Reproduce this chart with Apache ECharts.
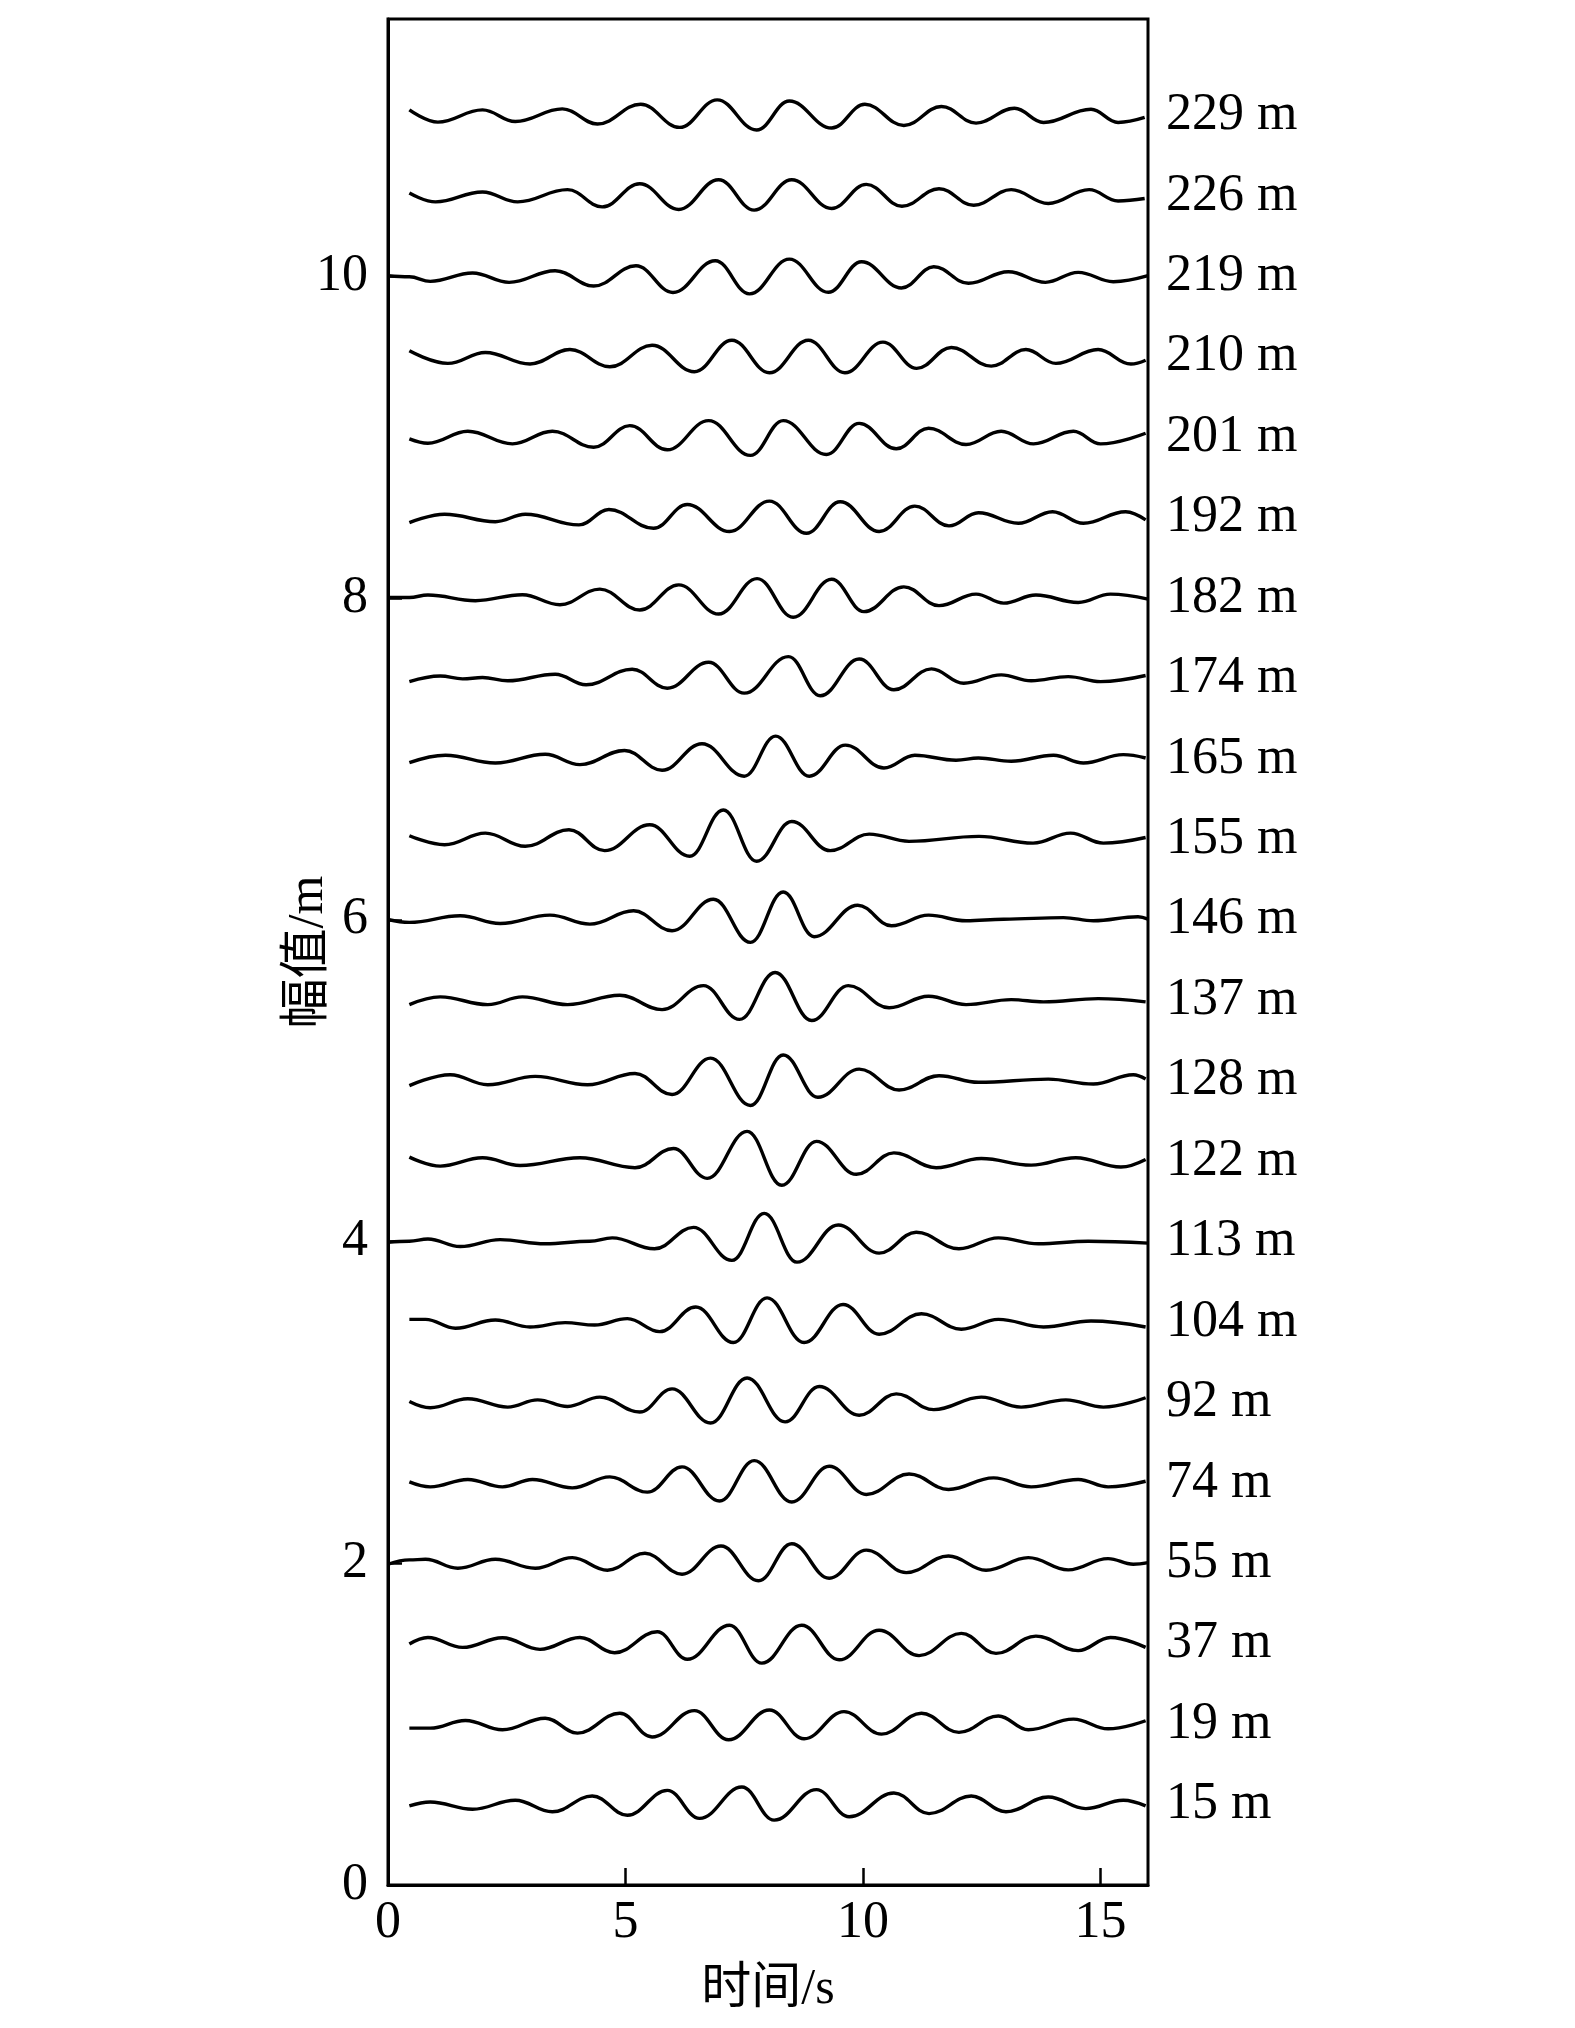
<!DOCTYPE html>
<html><head><meta charset="utf-8">
<script src="https://cdn.jsdelivr.net/npm/echarts@6/dist/echarts.min.js"></script>
<style>html,body{margin:0;padding:0;background:#fff}#c{width:1575px;height:2028px}</style>
</head><body><div id="c"></div>
<script>
// depth labels (top to bottom) and their baseline offsets (m)
const depths = ['229 m','226 m','219 m','210 m','201 m','192 m','182 m','174 m','165 m','155 m','146 m','137 m','128 m','122 m','113 m','104 m','92 m','74 m','55 m','37 m','19 m','15 m'];
const offsets = [11.0,10.5,10.0,9.5,9.0,8.5,8.0,7.5,7.0,6.5,6.0,5.5,5.0,4.5,4.0,3.5,3.0,2.5,2.0,1.5,1.0,0.5];
const xTicks = [0,5,10,15];
const yTicks = [0,2,4,6,8,10];

// waveforms: [time s, amplitude relative to baseline m]
const w229 = [[0.45,0.035],[1.05,-0.041],[1.99,0.035],[2.68,-0.037],[3.67,0.041],[4.41,-0.053],[5.32,0.07],[6.14,-0.074],[6.93,0.097],[7.76,-0.09],[8.45,0.09],[9.34,-0.078],[10.04,0.07],[10.86,-0.062],[11.65,0.056],[12.38,-0.047],[13.19,0.045],[13.8,-0.043],[14.8,0.039],[15.37,-0.043],[15.93,-0.012]];
const w226 = [[0.45,0.018],[1.0,-0.037],[1.99,0.025],[2.73,-0.037],[3.78,0.039],[4.51,-0.068],[5.3,0.076],[6.12,-0.084],[6.96,0.101],[7.71,-0.088],[8.5,0.101],[9.34,-0.078],[10.07,0.072],[10.82,-0.064],[11.6,0.045],[12.33,-0.058],[13.12,0.039],[13.9,-0.047],[14.76,0.039],[15.37,-0.031],[15.93,-0.016]];
const w219 = [[0.0,0.004],[0.45,-0.002],[0.89,-0.031],[1.78,0.021],[2.55,-0.037],[3.52,0.035],[4.33,-0.06],[5.22,0.066],[6.0,-0.1],[6.89,0.097],[7.61,-0.109],[8.45,0.107],[9.27,-0.099],[9.97,0.091],[10.81,-0.072],[11.49,0.06],[12.22,-0.043],[13.06,0.029],[13.84,-0.037],[14.53,0.025],[15.27,-0.033],[16.0,0.004]];
const w210 = [[0.45,0.037],[1.26,-0.041],[2.05,0.027],[2.99,-0.045],[3.83,0.045],[4.67,-0.062],[5.56,0.072],[6.45,-0.093],[7.24,0.103],[8.03,-0.099],[8.85,0.103],[9.62,-0.099],[10.42,0.091],[11.13,-0.072],[11.86,0.058],[12.7,-0.058],[13.43,0.045],[14.06,-0.041],[14.95,0.045],[15.64,-0.045],[15.95,-0.021]];
const w201 = [[0.45,-0.01],[0.84,-0.037],[1.68,0.037],[2.62,-0.041],[3.46,0.037],[4.33,-0.062],[5.09,0.072],[5.88,-0.078],[6.75,0.103],[7.63,-0.113],[8.32,0.103],[9.23,-0.107],[9.92,0.086],[10.7,-0.072],[11.38,0.056],[12.17,-0.045],[12.91,0.037],[13.59,-0.041],[14.43,0.037],[15.0,-0.041],[15.95,0.025]];
const w192 = [[0.45,-0.031],[1.19,0.021],[2.26,-0.025],[2.89,0.021],[4.02,-0.045],[4.65,0.051],[5.59,-0.066],[6.3,0.082],[7.19,-0.086],[8.03,0.103],[8.81,-0.097],[9.52,0.099],[10.34,-0.086],[11.09,0.072],[11.81,-0.051],[12.43,0.031],[13.27,-0.035],[13.99,0.037],[14.64,-0.035],[15.53,0.037],[15.95,-0.014]];
const w182 = [[0.0,0.004],[0.45,0.004],[0.84,0.019],[1.84,-0.016],[2.83,0.021],[3.62,-0.041],[4.46,0.056],[5.3,-0.074],[6.12,0.082],[6.96,-0.099],[7.77,0.121],[8.53,-0.119],[9.34,0.117],[10.02,-0.084],[10.86,0.07],[11.6,-0.047],[12.38,0.025],[12.96,-0.031],[13.64,0.019],[14.53,-0.027],[15.21,0.025],[16.0,-0.006]];
const w174 = [[0.45,-0.019],[1.1,0.016],[1.57,-0.002],[1.99,0.006],[2.52,-0.014],[3.52,0.027],[4.17,-0.039],[5.14,0.058],[5.88,-0.06],[6.75,0.101],[7.5,-0.091],[8.43,0.136],[9.1,-0.107],[9.92,0.121],[10.65,-0.07],[11.44,0.06],[12.12,-0.029],[12.91,0.023],[13.54,-0.014],[14.32,0.012],[15.0,-0.019],[15.95,0.019]];
const w165 = [[0.45,-0.023],[1.21,0.023],[2.26,-0.025],[3.31,0.029],[4.04,-0.035],[4.98,0.053],[5.77,-0.07],[6.61,0.095],[7.5,-0.107],[8.16,0.142],[8.87,-0.107],[9.63,0.086],[10.44,-0.056],[11.09,0.023],[11.96,-0.008],[12.43,0.006],[13.12,-0.014],[14.01,0.023],[14.64,-0.025],[15.48,0.027],[15.95,0.006]];
const w155 = [[0.45,0.023],[1.19,-0.033],[2.05,0.039],[2.89,-0.043],[3.81,0.06],[4.56,-0.07],[5.51,0.091],[6.35,-0.105],[7.06,0.183],[7.76,-0.136],[8.5,0.111],[9.31,-0.07],[10.13,0.033],[10.97,-0.012],[12.44,0.019],[13.58,-0.023],[14.37,0.039],[15.06,-0.023],[15.95,0.012]];
const w146 = [[0.0,0.002],[0.45,-0.016],[1.52,0.025],[2.36,-0.023],[3.41,0.029],[4.25,-0.027],[5.17,0.056],[5.98,-0.068],[6.85,0.128],[7.63,-0.14],[8.32,0.173],[8.97,-0.105],[9.89,0.091],[10.6,-0.037],[11.38,0.029],[12.17,-0.006],[12.96,0.004],[14.22,0.014],[14.85,-0.006],[15.79,0.019],[16.0,0.004]];
const w137 = [[0.45,-0.027],[1.1,0.021],[2.1,-0.027],[2.83,0.021],[3.78,-0.027],[4.88,0.031],[5.77,-0.058],[6.64,0.091],[7.4,-0.119],[8.15,0.173],[8.92,-0.126],[9.69,0.091],[10.55,-0.047],[11.38,0.025],[12.17,-0.027],[13.12,0.004],[13.8,-0.01],[14.95,0.01],[15.95,-0.01]];
const w128 = [[0.45,-0.031],[1.31,0.037],[2.1,-0.025],[3.1,0.027],[4.2,-0.025],[5.2,0.045],[5.98,-0.086],[6.79,0.14],[7.63,-0.154],[8.32,0.16],[9.05,-0.103],[9.92,0.072],[10.76,-0.058],[11.6,0.031],[12.43,-0.01],[13.9,0.01],[14.85,-0.021],[15.69,0.037],[15.95,0.01]];
const w122 = [[0.45,0.025],[1.1,-0.031],[1.99,0.021],[2.78,-0.027],[4.04,0.021],[5.2,-0.041],[6.01,0.078],[6.72,-0.107],[7.56,0.185],[8.29,-0.15],[9.02,0.123],[9.86,-0.082],[10.65,0.051],[11.54,-0.041],[12.49,0.016],[13.54,-0.025],[14.48,0.021],[15.43,-0.037],[15.95,0.01]];
const w113 = [[0.0,-0.004],[0.45,0.002],[0.84,0.016],[1.52,-0.031],[2.36,0.012],[3.31,-0.014],[4.25,0.002],[4.72,0.023],[5.61,-0.045],[6.43,0.088],[7.24,-0.117],[7.92,0.175],[8.61,-0.128],[9.48,0.103],[10.34,-0.072],[11.12,0.058],[12.02,-0.045],[12.85,0.023],[13.69,-0.014],[14.74,0.002],[16.0,-0.01]];
const w104 = [[0.45,0.016],[0.79,0.016],[1.42,-0.039],[2.26,0.012],[2.99,-0.031],[3.73,-0.004],[4.35,-0.019],[5.04,0.021],[5.72,-0.06],[6.48,0.093],[7.27,-0.128],[7.98,0.15],[8.76,-0.128],[9.58,0.109],[10.34,-0.076],[11.23,0.051],[12.07,-0.045],[12.85,0.016],[13.8,-0.031],[14.8,0.006],[15.95,-0.031]];
const w92 = [[0.45,0.006],[0.89,-0.033],[1.68,0.023],[2.52,-0.029],[3.15,0.016],[3.78,-0.025],[4.46,0.033],[5.3,-0.06],[5.98,0.084],[6.79,-0.128],[7.56,0.152],[8.36,-0.121],[9.08,0.099],[9.92,-0.08],[10.7,0.053],[11.49,-0.045],[12.49,0.033],[13.33,-0.029],[14.27,0.016],[15.06,-0.029],[15.95,0.029]];
const w74 = [[0.45,0.006],[0.89,-0.025],[1.68,0.021],[2.41,-0.025],[3.04,0.021],[3.88,-0.031],[4.67,0.037],[5.46,-0.058],[6.19,0.099],[6.98,-0.113],[7.71,0.138],[8.5,-0.119],[9.29,0.103],[10.07,-0.072],[10.97,0.055],[11.8,-0.041],[12.75,0.031],[13.54,-0.025],[14.53,0.021],[15.16,-0.025],[15.95,0.01]];
const w55 = [[0.0,-0.006],[0.45,0.021],[0.79,0.025],[1.47,-0.031],[2.26,0.025],[3.1,-0.031],[3.88,0.035],[4.62,-0.043],[5.41,0.062],[6.19,-0.068],[7.01,0.107],[7.8,-0.109],[8.5,0.121],[9.29,-0.093],[10.07,0.082],[10.91,-0.058],[11.8,0.045],[12.59,-0.043],[13.48,0.035],[14.32,-0.041],[15.16,0.029],[15.69,-0.006],[16.0,0.004]];
const w37 = [[0.45,-0.002],[0.84,0.039],[1.57,-0.023],[2.41,0.037],[3.2,-0.035],[4.04,0.039],[4.77,-0.056],[5.67,0.074],[6.3,-0.097],[7.19,0.115],[7.87,-0.121],[8.71,0.115],[9.5,-0.1],[10.34,0.084],[11.18,-0.074],[12.07,0.064],[12.8,-0.06],[13.64,0.047],[14.53,-0.043],[15.21,0.039],[15.95,-0.023]];
const w19 = [[0.45,-0.025],[0.89,-0.025],[1.63,0.023],[2.41,-0.035],[3.31,0.037],[3.99,-0.056],[4.88,0.068],[5.56,-0.08],[6.45,0.084],[7.17,-0.097],[8.03,0.088],[8.76,-0.091],[9.6,0.078],[10.39,-0.062],[11.23,0.068],[12.02,-0.051],[12.85,0.051],[13.48,-0.035],[14.43,0.031],[15.16,-0.029],[15.95,0.021]];
const w15 = [[0.45,-0.008],[0.89,0.016],[1.78,-0.029],[2.68,0.027],[3.46,-0.045],[4.3,0.053],[5.04,-0.066],[5.88,0.088],[6.56,-0.086],[7.45,0.109],[8.13,-0.097],[9.02,0.093],[9.71,-0.076],[10.65,0.072],[11.39,-0.056],[12.28,0.053],[13.01,-0.045],[13.9,0.047],[14.69,-0.025],[15.48,0.027],[15.95,-0.008]];

const waves = [w229,w226,w219,w210,w201,w192,w182,w174,w165,w155,w146,w137,w128,w122,w113,w104,w92,w74,w55,w37,w19,w15];

const serif = "'Liberation Serif','Times New Roman','Noto Sans CJK SC',serif";
const series = [];
waves.forEach((w, i) => {
  series.push({
    type: 'line', name: depths[i], smooth: 0.4, smoothMonotone: 'x', symbol: 'none', silent: true,
    lineStyle: { color: '#000', width: 3.4 },
    data: w.map(p => [p[0], offsets[i] + p[1]])
  });
});
series.push({
  type: 'scatter', symbolSize: 0, silent: true,
  itemStyle: { opacity: 1 },
  data: offsets.map((o, i) => ({ value: [16, o], name: depths[i] })),
  label: { show: true, position: 'right', distance: 18, formatter: p => p.name, opacity: 1,
           color: '#000', fontFamily: serif, fontSize: 52 },
  emphasis: { disabled: true }
});

const chart = echarts.init(document.getElementById('c'), null, { renderer: 'canvas' });
chart.setOption({
  backgroundColor: '#fff',
  animation: false,
  grid: { left: 388, right: 427, top: 19, bottom: 143, show: true, borderColor: '#000', borderWidth: 3, backgroundColor: 'transparent' },
  xAxis: {
    type: 'value', min: 0, max: 16, interval: 5,
    name: '时间/s', nameLocation: 'middle', nameGap: 80, nameMoveOverlap: false,
    nameTextStyle: { fontFamily: serif, fontSize: 50, color: '#000' },
    axisLine: { show: true, lineStyle: { color: '#000', width: 3 } },
    axisTick: { show: true, inside: true, length: 17, lineStyle: { color: '#000', width: 2.5 } },
    axisLabel: { fontFamily: serif, fontSize: 52, color: '#000', margin: 12, showMaxLabel: false,
                 formatter: v => xTicks.includes(v) ? String(v) : '' },
    splitLine: { show: false }
  },
  yAxis: {
    type: 'value', min: 0, max: 11.6, interval: 2,
    name: '幅值/m', nameLocation: 'middle', nameGap: 54, nameRotate: 90, nameMoveOverlap: false,
    nameTextStyle: { fontFamily: serif, fontSize: 50, color: '#000' },
    axisLine: { show: true, lineStyle: { color: '#000', width: 3 } },
    axisTick: { show: true, inside: true, length: 14, lineStyle: { color: '#000', width: 2.5 } },
    axisLabel: { fontFamily: serif, fontSize: 52, color: '#000', margin: 20, showMaxLabel: false,
                 formatter: v => yTicks.includes(v) ? String(v) : '' },
    splitLine: { show: false }
  },
  series: series
});
</script>
</body></html>
